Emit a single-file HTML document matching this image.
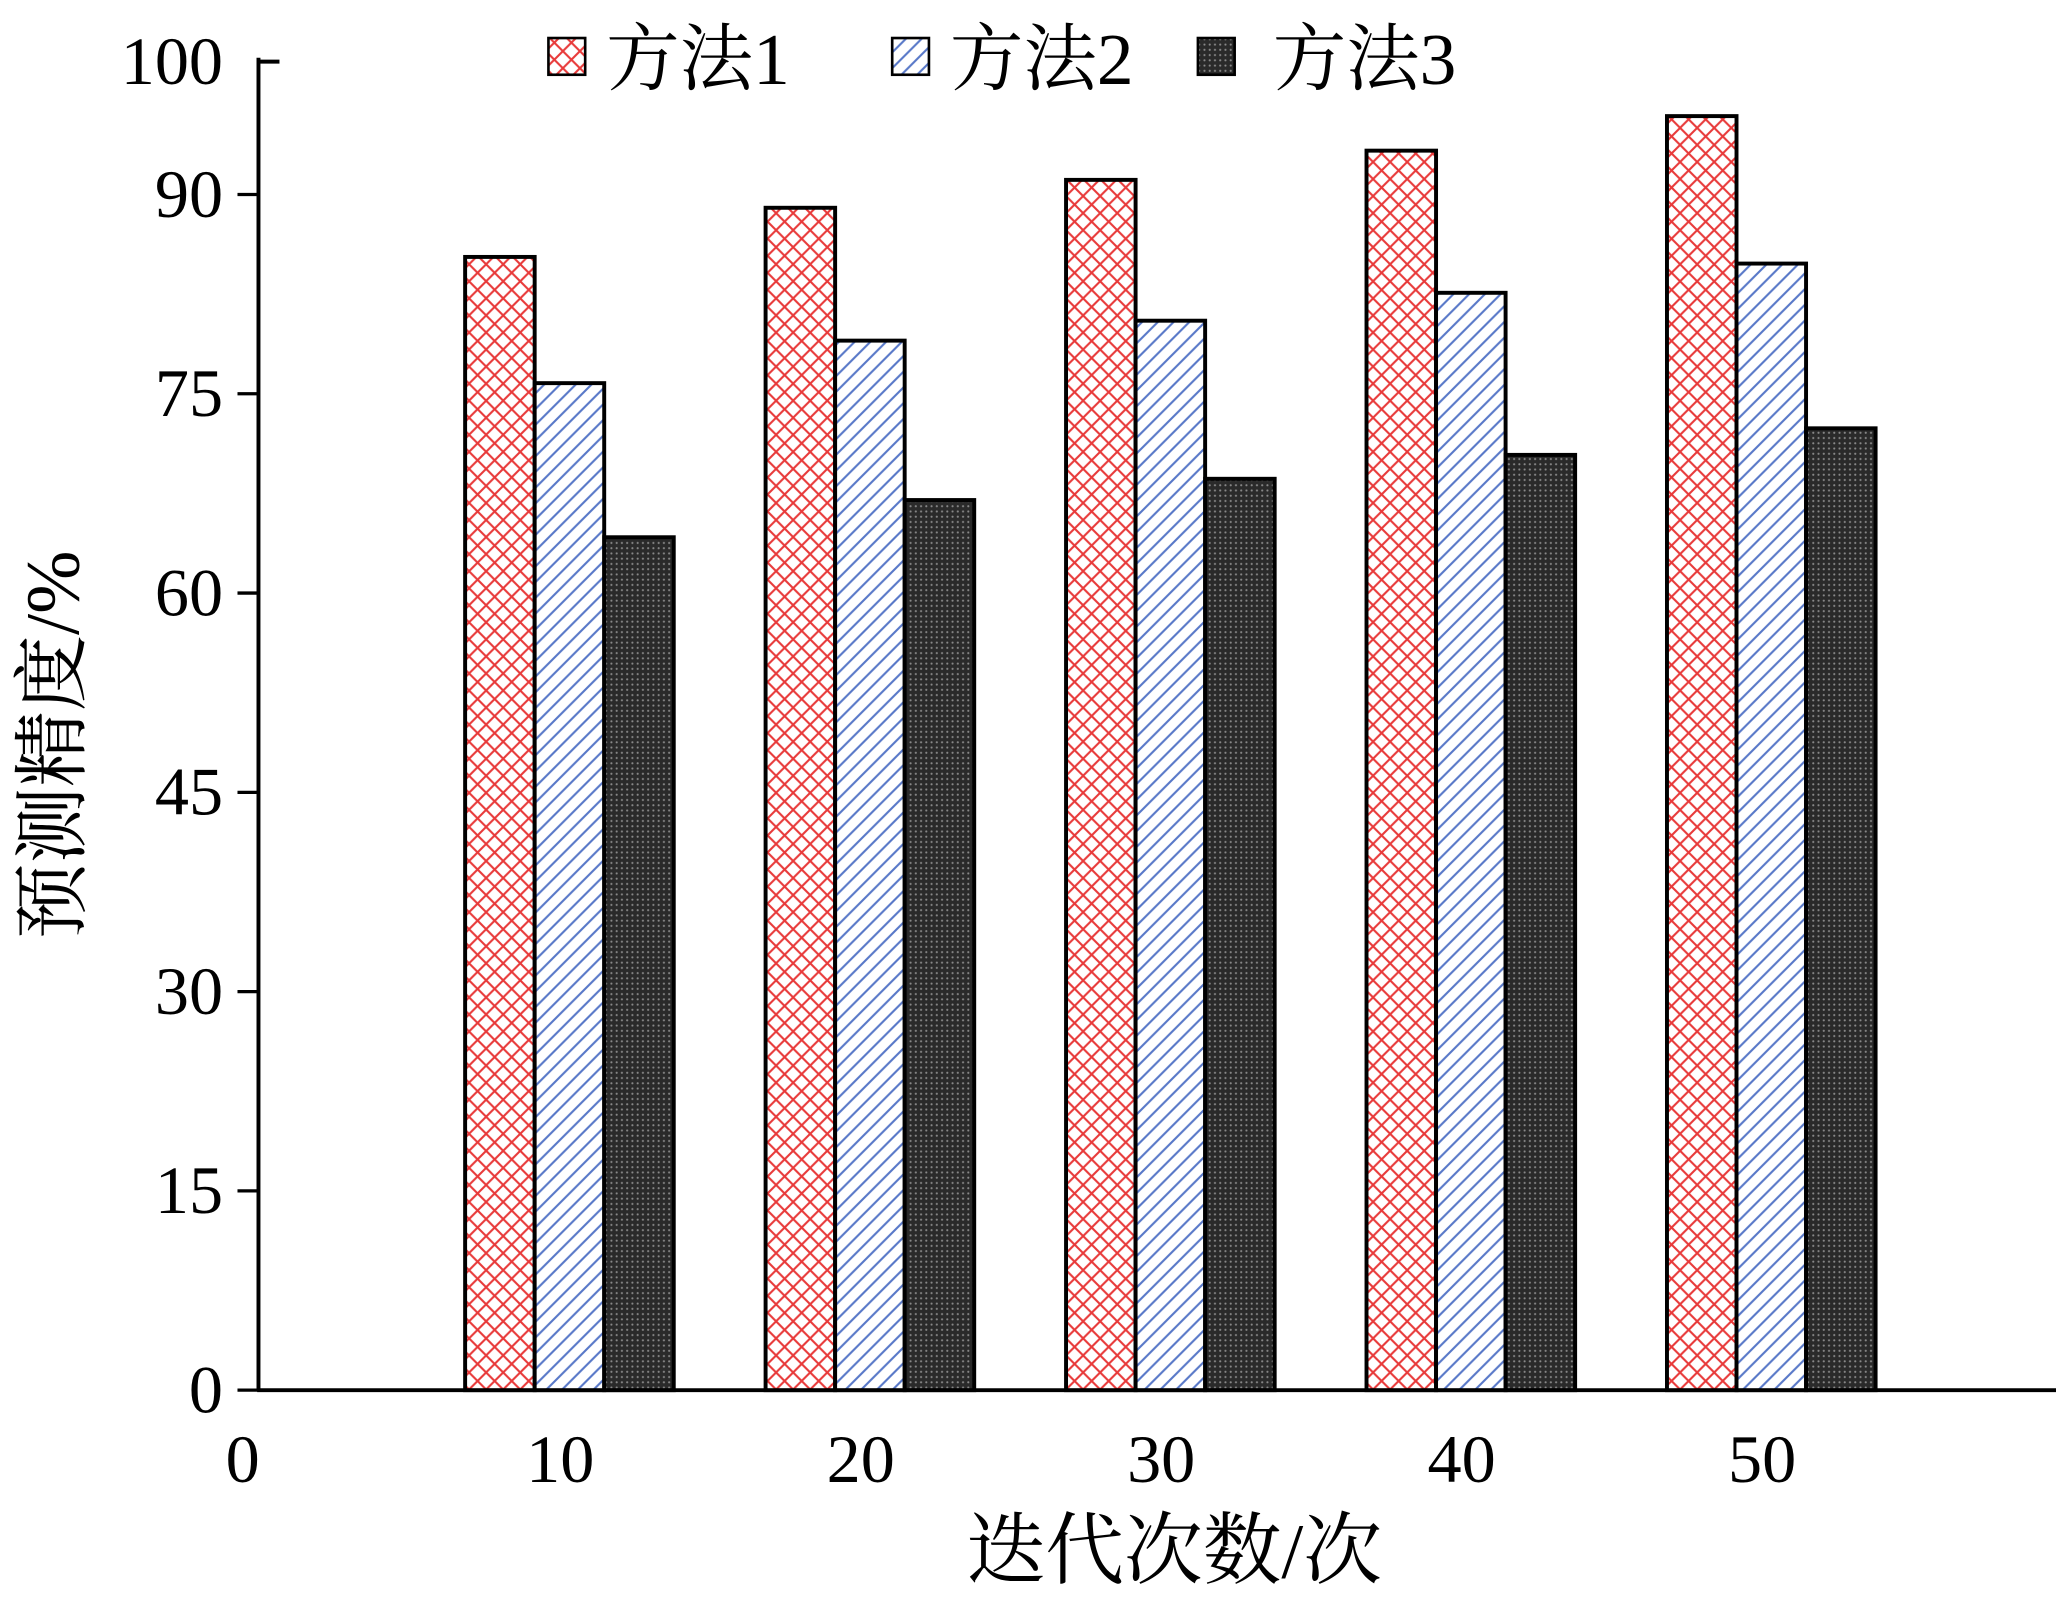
<!DOCTYPE html>
<html><head><meta charset="utf-8"><style>
html,body{margin:0;padding:0;background:#fff;}
svg{display:block;}
text{font-family:"Liberation Serif","Noto Serif CJK SC",serif;fill:#000;}
</style></head><body>
<svg id="chart" width="2056" height="1600" viewBox="0 0 1567 1220" preserveAspectRatio="none" xmlns="http://www.w3.org/2000/svg">
<defs>
<pattern id="pCross" patternUnits="userSpaceOnUse" width="13" height="13">
<rect width="13" height="13" fill="#fff"/>
<path d="M0,0 L13,13 M13,0 L0,13" stroke="#e83a3a" stroke-width="1.6"/>
</pattern>
<pattern id="pDiag" patternUnits="userSpaceOnUse" width="12" height="12">
<rect width="12" height="12" fill="#fff"/>
<path d="M-3,3 L3,-3 M0,12 L12,0 M9,15 L15,9" stroke="#5878c8" stroke-width="1.6"/>
</pattern>
<pattern id="pDot" patternUnits="userSpaceOnUse" width="4" height="4">
<rect width="4" height="4" fill="#2a2a2a"/>
<circle cx="2" cy="2" r="0.8" fill="#888"/>
</pattern>
</defs>
<g id="axes"></g>
<g id="bars"></g>
<g id="legend"></g>
</svg>
<script>
const categories = ["10","20","30","40","50"];
const method1 = [85.3, 89.0, 91.1, 93.3, 95.9];
const method2 = [75.8, 79.0, 80.5, 82.6, 84.8];
const method3 = [64.2, 67.0, 68.6, 70.4, 72.4];
const yTicks = [0,15,30,45,60,75,90,100];
const seriesNames = ["方法1","方法2","方法3"];

const NS = "http://www.w3.org/2000/svg";
const X0 = 197, Y0 = 1060, YTOP = 47;
function yScale(v){ return Y0 - v*(Y0-YTOP)/100; }
function xCenter(i){ return 434 + i*229; }
const BW = 53;
function mk(tag, attrs, parent){ const e=document.createElementNS(NS,tag); for(const k in attrs) e.setAttribute(k,attrs[k]); parent.appendChild(e); return e; }

const axes = document.getElementById('axes');
let a = mk('line',{x1:X0,y1:YTOP-3,x2:X0,y2:Y0,stroke:'#000','stroke-width':3},axes);


a = mk('line',{x1:X0-1,y1:Y0,x2:1567,y2:Y0,stroke:'#000','stroke-width':3},axes);


yTicks.forEach(v=>{
  const y = yScale(v);
  const tk = v===100 ? mk('line',{x1:X0,y1:y,x2:X0+16,y2:y,stroke:'#000','stroke-width':3},axes)
                     : mk('line',{x1:X0-16,y1:y,x2:X0,y2:y,stroke:'#000','stroke-width':2.5},axes);
  
  
  const t = mk('text',{x:170,y:y+17,'text-anchor':'end','font-size':52},axes);
  t.textContent = v;
  
  
});
let t0 = mk('text',{x:185,y:1130,'text-anchor':'middle','font-size':52},axes);
t0.textContent = "0";


categories.forEach((c,i)=>{
  const t = mk('text',{x:xCenter(i)-7,y:1130,'text-anchor':'middle','font-size':52},axes);
  t.textContent = c;
  
  
});
let xt = mk('text',{x:895,y:1203,'text-anchor':'middle','font-size':60},axes);
xt.textContent = "迭代次数/次";


let yt = mk('text',{x:0,y:0,'text-anchor':'middle','font-size':58,transform:'translate(60,568) rotate(-90)'},axes);
yt.textContent = "预测精度/%";



const bars = document.getElementById('bars');
const series = [method1, method2, method3];
const fills = ['url(#pCross)','url(#pDiag)','url(#pDot)'];
series.forEach((vals,s)=>{
  vals.forEach((v,i)=>{
    const x = xCenter(i) - 1.5*BW + s*BW;
    const y = yScale(v);
    const r = mk('rect',{x:x,y:y,width:BW,height:Y0-y,fill:fills[s],stroke:'#000','stroke-width':3},bars);
    
    
  });
});

const legend = document.getElementById('legend');
const lx = [418, 680, 913];
seriesNames.forEach((n,s)=>{
  const r = mk('rect',{x:lx[s],y:29,width:28,height:28,fill:fills[s],stroke:'#000','stroke-width':2},legend);
  
  
  const t = mk('text',{x:lx[s]+(s===2?57:44),y:64,'font-size':56},legend);
  t.textContent = n;
  
  
});
</script>
</body></html>
